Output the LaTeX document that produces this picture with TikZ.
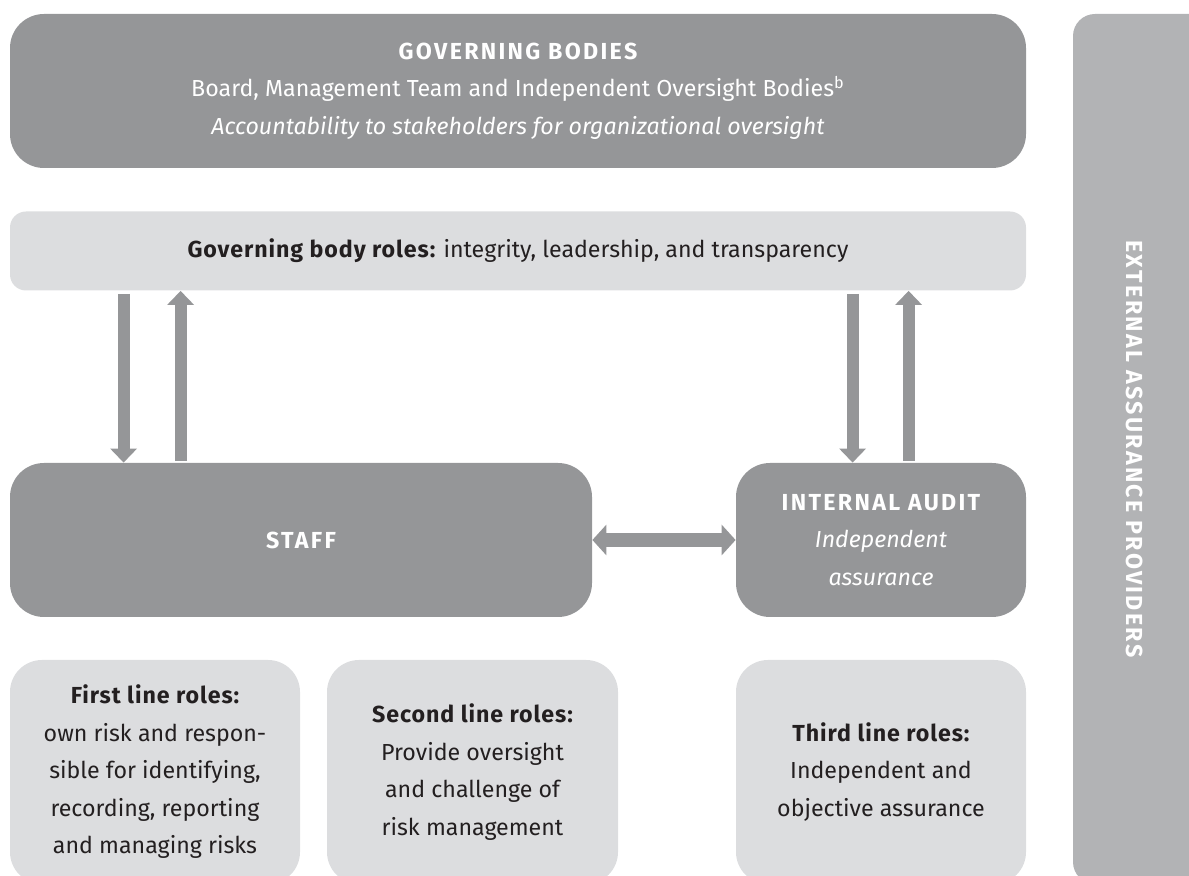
\documentclass[tikz,border=0pt]{standalone}
\usepackage{fontspec}
\setmainfont{Fira Sans}[BoldFont={Fira Sans Bold}, ItalicFont={Fira Sans Italic}, BoldItalicFont={Fira Sans Bold Italic}]
\usetikzlibrary{arrows.meta,calc}
\definecolor{boxdark}{RGB}{149,150,152}
\definecolor{boxlight}{RGB}{220,221,223}
\definecolor{bargray}{RGB}{178,179,181}
\definecolor{inkdark}{RGB}{35,31,32}
\newcommand\capshead[1]{{\bfseries\addfontfeatures{LetterSpace=10}#1}}
\newcommand\rolehead[1]{{\bfseries\addfontfeatures{LetterSpace=4}#1}}
\tikzset{
  boxtext/.style={font=\fontsize{11.6}{18.75}\selectfont, align=center, inner sep=0pt},
  darkbox/.style={boxtext, fill=boxdark, text=white, rounded corners=17pt},
  lightbox/.style={boxtext, fill=boxlight, text=inkdark, rounded corners=16pt},
  flow/.style={draw=boxdark, line width=6pt, -{Triangle[width=13pt,length=7pt]}},
  twoway/.style={draw=boxdark, line width=7pt,
    {Triangle[width=15pt,length=7pt]}-{Triangle[width=15pt,length=7pt]}},
}
\begin{document}
\begin{tikzpicture}[x=0.5pt,y=-0.5pt]
  \clip (0,0) rectangle (1189,876);
  % governing bodies
  \node[darkbox, minimum width=508pt, minimum height=77pt] (gov) at (518,91)
    {\capshead{GOVERNING BODIES}\\
     Board, Management Team and Independent Oversight Bodies\textsuperscript{b}\\
     \textit{Accountability to stakeholders for organizational oversight}};
  \node[lightbox, rounded corners=8pt, minimum width=508pt, minimum height=39.5pt] (roles) at (518,251)
    {\rolehead{Governing body roles:} integrity, leadership, and transparency};
  % staff and internal audit
  \node[darkbox, minimum width=291pt, minimum height=77pt] (staff) at (301,540) {\capshead{STAFF}};
  \node[darkbox, minimum width=145pt, minimum height=77pt] (audit) at (881,540)
    {\capshead{INTERNAL AUDIT}\\\textit{Independent}\\\textit{assurance}};
  % the three lines
  \node[lightbox, minimum width=145pt, minimum height=112pt] (first) at (155,772)
    {\rolehead{First line roles:}\\own risk and respon-\\sible for identifying,\\recording, reporting\\and managing risks};
  \node[lightbox, minimum width=145.5pt, minimum height=112pt] (second) at (472.5,772)
    {\rolehead{Second line roles:}\\Provide oversight\\and challenge of\\risk management};
  \node[lightbox, minimum width=145pt, minimum height=112pt] (third) at (881,772)
    {\rolehead{Third line roles:}\\Independent and\\objective assurance};
  % external providers
  \node[fill=bargray, rounded corners=11pt, inner sep=0pt, minimum width=74pt, minimum height=435pt] (extbar) at (1147,449) {};
  \node[boxtext, rotate=-90, text=white] (ext) at (1135,449) {\capshead{EXTERNAL ASSURANCE PROVIDERS}};
  % arrows
  \draw[flow] ($(staff.north west |- roles.south)+(114,3)$) -- ($(staff.north west)+(114,0)$);
  \draw[flow] ($(staff.north west)+(171,-2)$) -- ($(staff.north west |- roles.south)+(171,0)$);
  \draw[flow] ($(audit.north west |- roles.south)+(117,3)$) -- ($(audit.north west)+(117,0)$);
  \draw[flow] ($(audit.north west)+(173,-2)$) -- ($(audit.north west |- roles.south)+(173,0)$);
  \draw[twoway] (staff.east) -- (audit.west);
\end{tikzpicture}
\end{document}
